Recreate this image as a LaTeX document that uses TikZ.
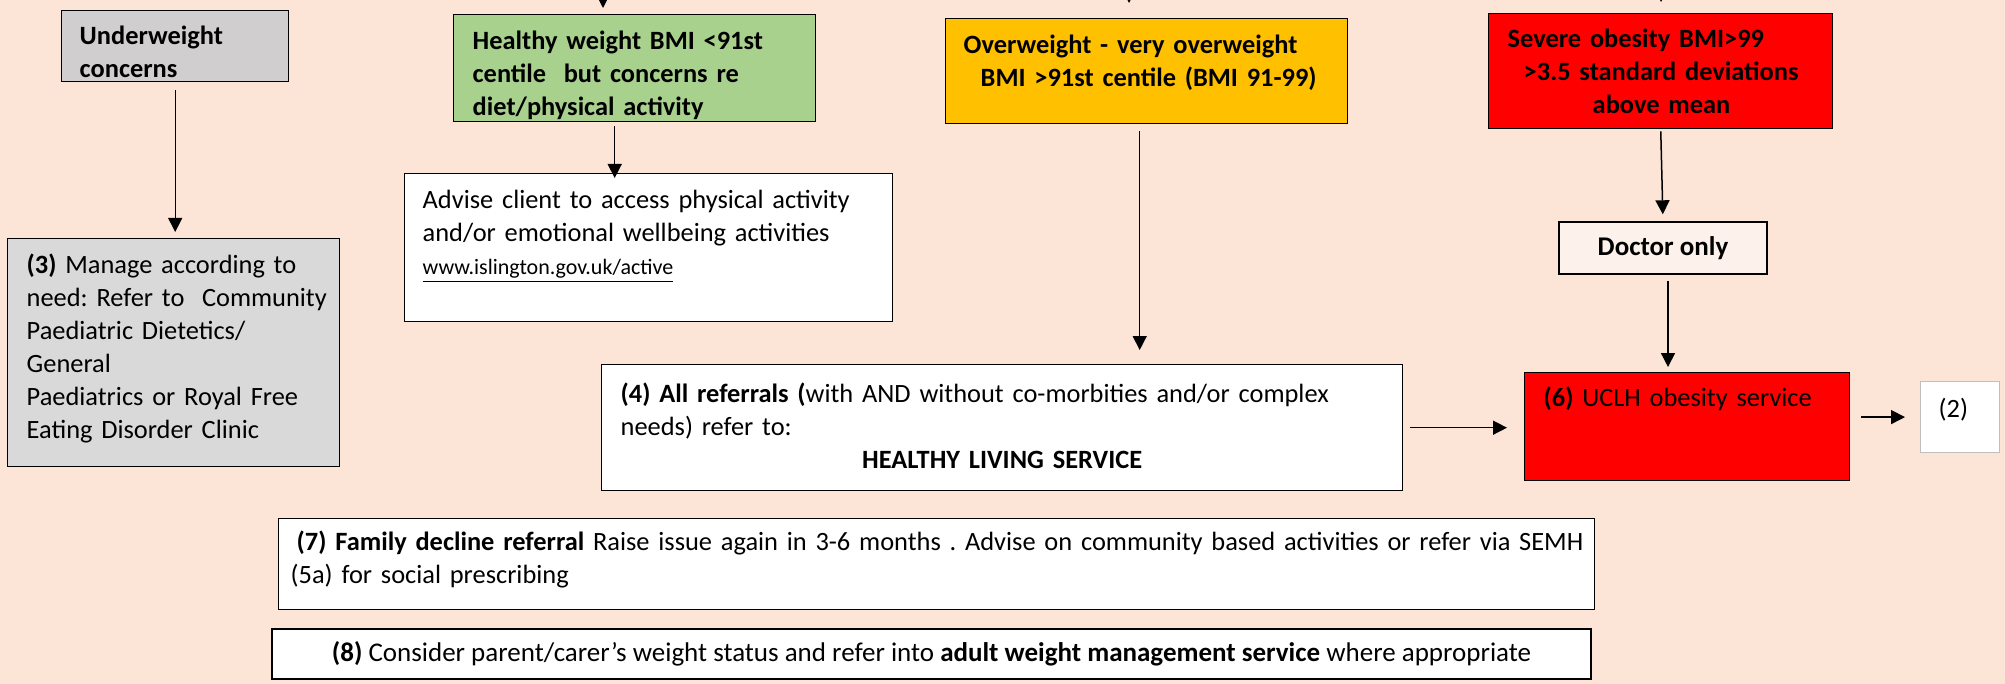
\documentclass[tikz,border=0pt]{standalone}
\usepackage{fontspec}
\setmainfont{Carlito}
\usetikzlibrary{arrows.meta}

\definecolor{bgpeach}{HTML}{FCE4D6}
\definecolor{uwgrey}{HTML}{D0CECE}
\definecolor{mnggrey}{HTML}{D9D9D9}
\definecolor{hwgreen}{HTML}{A9D18E}
\definecolor{owamber}{HTML}{FFC000}
\definecolor{sevred}{HTML}{FF0000}
\definecolor{docpink}{HTML}{FDF1EC}
\definecolor{twogrey}{HTML}{BFBFBF}

\newcommand\bodyfont{\fontsize{13.2}{16.5}\selectfont\frenchspacing}
\newcommand\widefont{\fontsize{13.5}{16.5}\selectfont\frenchspacing}
% left padding inside a box, lines set at their natural width
\newcommand\padded[2]{\leftskip=#1\relax\rightskip=-20pt plus 1fil\relax#2\par}

\tikzset{
  flowbox/.style={draw, line width=0.7pt, anchor=north west, inner xsep=0pt,
    inner ysep=0pt, align=left, font=\bodyfont},
  midbox/.style={draw, line width=0.7pt, inner sep=0pt, align=center, font=\widefont},
  boldtext/.style={font=\bodyfont\bfseries},
  arr/.style={-{Triangle[length=7pt,width=7pt]}, line width=0.75pt},
}

\begin{document}
\begin{tikzpicture}[x=0.5pt,y=-0.5pt]
  % page and background
  \useasboundingbox (0,0) rectangle (2005,684);
  \fill[bgpeach] (0,0) rectangle (2005,684);
  \clip (0,0) rectangle (2005,684);

  % weight categories along the top
  \node[flowbox, boldtext, fill=uwgrey, text width=113.5pt, text height=17pt, text depth=18.5pt] (uw) at (61,10)
    {\padded{9pt}{Underweight\\concerns}};
  \node[flowbox, boldtext, fill=hwgreen, text width=181pt, text height=17.5pt, text depth=36pt] (hw) at (453,14)
    {\padded{9.5pt}{Healthy weight BMI <91st\\centile\ \ but concerns re\\diet/physical activity}};
  \node[flowbox, boldtext, fill=owamber, text width=201pt, text height=17.5pt, text depth=35pt] (ow) at (945,18)
    {\padded{9pt}{Overweight - very overweight\\\hspace*{8.5pt}BMI >91st centile (BMI 91-99)}};
  \node[flowbox, boldtext, fill=sevred, text width=172pt, text height=17pt, text depth=40.5pt] (sev) at (1488,13)
    {\padded{9.5pt}{Severe obesity BMI>99\\\hspace*{8pt}>3.5 standard deviations\\\hspace*{42.5pt}above mean}};

  % what happens next
  \node[flowbox, fill=mnggrey, text width=166pt, text height=17.5pt, text depth=96.5pt] (mng) at (7,238)
    {\padded{9.5pt}{\textbf{(3)} Manage according to\\need: Refer to\ \ Community\\Paediatric Dietetics/\\General\\Paediatrics or Royal Free\\Eating Disorder Clinic}};
  \node[flowbox, fill=white, text width=244pt, text height=17.5pt, text depth=56.5pt] (adv) at (404,173)
    {\padded{9pt}{Advise client to access physical activity\\and/or emotional wellbeing activities\\{\fontsize{11}{16.5}\selectfont\underline{www.islington.gov.uk/active}}}};
  \node[midbox, font=\widefont\bfseries, fill=docpink, minimum width=104pt, minimum height=26pt] (doc) at (1663,248) {Doctor only};
  \node[flowbox, fill=white, text width=400.5pt, text height=19pt, text depth=44pt] (hls) at (601,364)
    {\padded{9.5pt}{\textbf{(4) All referrals (}with AND without co-morbities and/or complex\\needs) refer to:\\\makebox[\dimexpr\linewidth-19pt\relax]{\textbf{HEALTHY LIVING SERVICE}}}};
  \node[flowbox, fill=sevred, text width=162.5pt, text height=17pt, text depth=37pt] (uclh) at (1524,372)
    {\padded{9.5pt}{\textbf{(6)} UCLH obesity service}};
  \node[flowbox, draw=twogrey, line width=0.6pt, fill=white, text width=39.5pt, text height=18pt, text depth=17.5pt] (two) at (1920,381)
    {\padded{9pt}{(2)}};

  % notes at the bottom
  \node[flowbox, fill=white, text width=658pt, text height=16pt, text depth=29.5pt] (dec) at (278,518)
    {\padded{6pt}{\hspace*{3pt}\textbf{(7) Family decline referral} Raise issue again in 3-6 months . Advise on community based activities or refer via SEMH\\(5a) for social prescribing}};
  \node[midbox, fill=white, minimum width=659.5pt, minimum height=25pt] (adult) at (931.5,654)
    {\textbf{(8)} Consider parent/carer's weight status and refer into \textbf{adult weight management service} where appropriate};

  % arrows coming in from above
  \coordinate (inhw) at (603,-30);
  \coordinate (inow) at (1129,-30);
  \coordinate (insev) at (1661,-30);
  \draw[arr, shorten >=3pt] (inhw) -- (inhw |- hw.north);
  \draw[arr, shorten >=7.5pt] (inow) -- (inow |- ow.north);
  \draw[arr, shorten >=5.5pt] (insev) -- (insev |- sev.north);

  % arrows between the boxes
  \draw[arr, line width=0.5pt, shorten <=4pt, shorten >=3pt] (uw.south) -- (uw.south |- mng.north);
  \draw[arr, shorten <=2pt, shorten >=-2.5pt] ([xshift=-10pt]hw.south) -- ([xshift=-10pt]hw.south |- adv.north);
  \draw[arr, shorten <=3.5pt, shorten >=7pt] ([xshift=-3.5pt]ow.south) -- ([xshift=-3.5pt]ow.south |- hls.north);
  \draw[arr, shorten <=3.5pt, shorten >=8.5pt] (hls.east) -- (hls.east -| uclh.west);
  \draw[arr, shorten <=1pt, shorten >=3.5pt] (sev.south) -- (doc.north);
  \draw[arr, shorten <=3pt, shorten >=2.5pt] ([xshift=2.5pt]doc.south) -- ([xshift=2.5pt]doc.south |- uclh.north);
  \draw[arr, shorten <=5.5pt, shorten >=7.5pt] (uclh.east |- two.west) -- (two.west);
\end{tikzpicture}
\end{document}
